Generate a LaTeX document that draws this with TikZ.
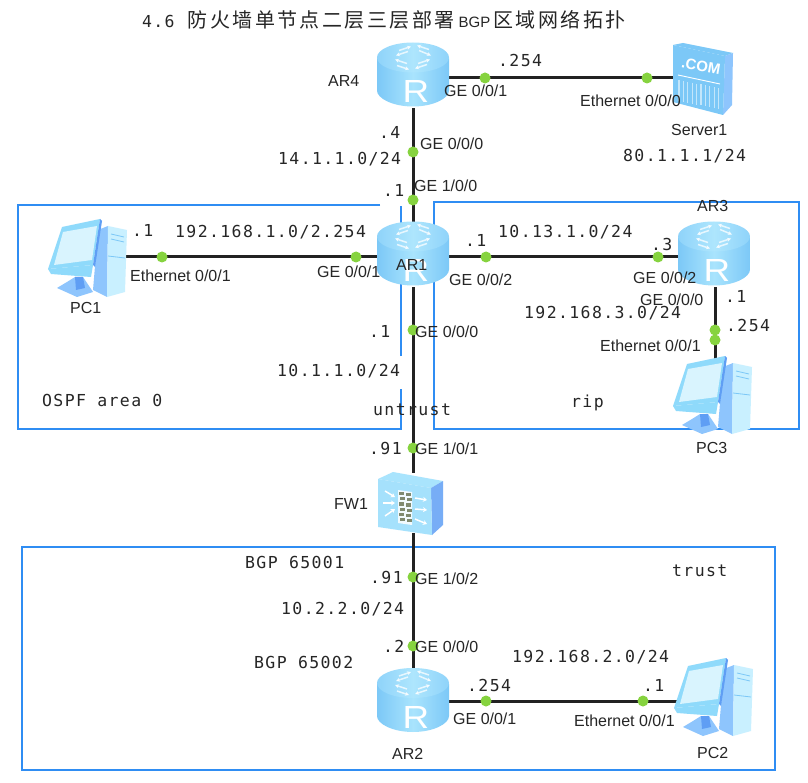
\documentclass[tikz,border=0pt]{standalone}
\usepackage{fontspec}
\setmainfont{Liberation Sans}
\newfontfamily\monof[LetterSpace=8.3]{DejaVu Sans Mono}
\newfontfamily\titlemono[LetterSpace=8]{DejaVu Sans Mono}
\newfontfamily\cjkf[LetterSpace=12.3]{Noto Sans CJK SC}
\usetikzlibrary{arrows.meta}
\definecolor{framec}{HTML}{2F8DF3}
\definecolor{linec}{HTML}{222222}
\definecolor{portc}{HTML}{86D33F}
\definecolor{txtc}{HTML}{262626}
\definecolor{routerA}{HTML}{7CC8F7}
\definecolor{routerB}{HTML}{A9E4FD}
\definecolor{routerC}{HTML}{8FD3FA}
\definecolor{routerD}{HTML}{AEE6FD}
\definecolor{routerE}{HTML}{8EC5FD}
\definecolor{pcLight}{HTML}{C9F0FF}
\definecolor{pcBlue}{HTML}{5F9EF4}
\definecolor{pcMidC}{HTML}{8FDAFB}
\definecolor{pcScreen}{HTML}{D9F4FE}
\definecolor{brickc}{HTML}{7F8A70}
\tikzset{
  x=1pt,y=-1pt,
  frameline/.style={draw=framec,line width=1.3pt},
  link/.style={draw=linec,line width=3pt},
  devbox/.style={inner sep=0pt,minimum width=#1,minimum height=#1},
  port/.style={circle,fill=portc,inner sep=0pt,minimum size=11pt},
  mlab/.style={anchor=mid west,inner sep=0pt,yshift=-3pt,text=txtc,font=\monof\fontsize{16.5}{18}\selectfont},
  slab/.style={anchor=mid west,inner sep=0pt,yshift=-3.5pt,text=txtc,font=\fontsize{16}{18}\selectfont},
  ricon/.style={white,line width=1.5pt,-{Stealth[length=4pt,width=4pt]},opacity=.75},
  router/.pic={
    \path[left color=routerA,right color=routerA,middle color=routerB]
      (-36,-16) -- (-36,16) .. controls (-36,24) and (-20,32) .. (0,32)
      .. controls (20,32) and (36,24) .. (36,16) -- (36,-16) -- cycle;
    \path[left color=routerC,right color=routerC,middle color=routerD] (0,-17) ellipse [x radius=36,y radius=15];
    \draw[ricon] (-5,-23) -- (-17,-19);
    \draw[ricon] (-14,-24) -- (-2,-28);
    \draw[ricon] (5,-11) -- (17,-15);
    \draw[ricon] (14,-10) -- (2,-6);
    \draw[ricon] (6,-24) -- (18,-19);
    \draw[ricon] (16,-25) -- (4,-29);
    \draw[ricon] (-6,-11) -- (-18,-15);
    \draw[ricon] (-16,-9) -- (-4,-5);
    \node[white,inner sep=0pt,xscale=1.15,font=\fontsize{32}{32}\selectfont] (-r) at (3,17) {R};
  },
  pcicon/.pic={
    \fill[routerE] (11,-28) -- (21,-32) -- (20,39) -- (6,32) -- cycle;
    \fill[pcLight] (21,-32) -- (40,-28) -- (38,34) -- (20,39) -- cycle;
    \draw[routerA,line width=.8pt] (24,-24) -- (37,-21) (24,-19) -- (37,-16) (21,-2) -- (38,0);
    \fill[routerE] (-30,30) -- (-20,24) -- (-12,19) -- (-4,19) -- (6,34) -- (-10,39) -- cycle;
    \fill[pcBlue] (-12,19) -- (-4,19) -- (-2,30) -- (-11,32) -- cycle;
    \fill[pcMidC] (-25,-31) -- (13,-39) -- (6,7) -- (-39,11) -- cycle;
    \fill[pcBlue] (13,-39) -- (15,-37) -- (8,9) -- (6,7) -- cycle;
    \fill[pcMidC] (-39,11) -- (6,7) -- (4,19) -- (-36,16) -- cycle;
    \fill[pcScreen] (-24,-26) -- (10,-32) -- (5,2) -- (-33,7) -- cycle;
  },
}
\begin{document}
\begin{tikzpicture}
\useasboundingbox (0,0) rectangle (808,783);
\fill[white] (0,0) rectangle (808,783);

% zone frames
\draw[frameline] (380,205) -- (18,205) -- (18,429) -- (401,429) -- (401,389);
\draw[frameline] (401,356) -- (401,206);
\draw[frameline] (434,429) -- (434,202) -- (799,202) -- (799,429) -- cycle;
\draw[frameline] (22,547) rectangle (775,770);

% device anchors
\node[devbox=60pt] (AR4) at (413,78) {};
\node[devbox=56pt] (Server1) at (703,78) {};
\node[devbox=60pt] (AR1) at (413,257) {};
\node[devbox=70pt] (PC1) at (87,257) {};
\node[devbox=60pt] (AR3) at (715,257) {};
\node[devbox=70pt] (PC3) at (715,395) {};
\node[devbox=60pt] (FW1) at (413,503) {};
\node[devbox=60pt] (AR2) at (413,701) {};
\node[devbox=70pt] (PC2) at (715,701) {};

% connectors
\draw[link] (AR4) -- (Server1);
\draw[link] (AR4) -- (AR1);
\draw[link] (AR1) -- (PC1);
\draw[link] (AR1) -- (AR3);
\draw[link] (AR3) -- (PC3);
\draw[link] (AR1) -- (FW1);
\draw[link] (FW1) -- (AR2);
\draw[link] (AR2) -- (PC2);

% icons
\pic (iAR4) at (413,74.5) {router};
\pic (iAR1) at (413,253.5) {router};
\pic (iAR3) at (714,253.5) {router};
\pic (iAR2) at (413,700) {router};
\pic (iPC1) at (87,258) {pcicon};
\pic (iPC3) at (712,395) {pcicon};
\pic (iPC2) at (713,697) {pcicon};

% server
\fill[routerA] (673,45) -- (683,43) -- (733,53) -- (725,56) -- cycle;
\fill[routerE] (725,56) -- (733,53) -- (732,105) -- (723,115) -- cycle;
\fill[routerA] (673,45) -- (725,56) -- (723,115) -- (673,102) -- cycle;
\node[white,inner sep=0pt,rotate=-10,font=\bfseries\fontsize{15}{15}\selectfont] (comtxt) at (701,66) {.COM};
\draw[white,line width=.9pt] (678,75) -- (720,84);
\foreach \i in {0,...,9}{
  \draw[white,opacity=.55,line width=1.2pt] ({679+\i*4.4},{80+\i*.9}) -- ({679+\i*4.4},{101+\i*.9});
}

% firewall
\fill[routerB] (378,479) -- (393,472) -- (443,481) -- (431,488) -- cycle;
\fill[pcBlue!85!white] (431,488) -- (443,481) -- (443,525) -- (432,535) -- cycle;
\fill[pcMidC!80!white] (378,479) -- (431,488) -- (432,535) -- (378,527) -- cycle;
\fill[white,opacity=.85] (398,490) -- (412,492) -- (412,525) -- (398,523) -- cycle;
\foreach \r in {0,...,5}{
  \fill[brickc] ({399+mod(\r,2)},{492+\r*5.2}) rectangle +(5,3.2);
  \fill[brickc] ({405.5+mod(\r,2)},{493+\r*5.2}) rectangle +(5,3.2);
}
\foreach \a/\b/\c/\d in {385/491/395/497, 383/503/395/503, 385/516/395/509, 415/498/427/500, 415/509/427/510, 415/519/427/524}{
  \draw[white,line width=1.5pt,-{Stealth[length=4pt,width=5pt]}] (\a,\b) -- (\c,\d);
}

% ports
\node[port] (p1) at (485,78) {};
\node[port] (p2) at (647,78) {};
\node[port] (p3) at (413,152) {};
\node[port] (p4) at (413,200) {};
\node[port] (p5) at (162,257) {};
\node[port] (p6) at (356,257) {};
\node[port] (p7) at (486,257) {};
\node[port] (p8) at (658,257) {};
\node[port] (p9) at (715,330) {};
\node[port] (p10) at (715,340) {};
\node[port] (p11) at (413,330) {};
\node[port] (p12) at (413,448) {};
\node[port] (p13) at (413,577) {};
\node[port] (p14) at (413,646) {};
\node[port] (p15) at (486,701) {};
\node[port] (p16) at (643,701) {};

% title
\node[anchor=mid west,inner sep=0pt,text=txtc] (title) at (142,25)
  {{\titlemono\fontsize{16.5}{18}\selectfont 4.6}\hspace{13pt}{\cjkf\fontsize{20}{22}\selectfont 防火墙单节点二层三层部署}\hspace{4pt}{\fontsize{15}{17}\selectfont BGP}\hspace{3pt}{\cjkf\fontsize{20}{22}\selectfont 区域网络拓扑}};

% sans labels
\node[slab] (s1) at (328,80) {AR4};
\node[slab] (s2) at (444,90) {GE 0/0/1};
\node[slab] (s3) at (580,100) {Ethernet 0/0/0};
\node[slab] (s4) at (671,129) {Server1};
\node[slab] (s5) at (420,143) {GE 0/0/0};
\node[slab] (s6) at (414,185) {GE 1/0/0};
\node[slab] (s7) at (697,205) {AR3};
\node[slab] (s8) at (130,275) {Ethernet 0/0/1};
\node[slab] (s9) at (70,307) {PC1};
\node[slab] (s10) at (317,271) {GE 0/0/1};
\node[slab] (s11) at (396,264) {AR1};
\node[slab] (s12) at (449,279) {GE 0/0/2};
\node[slab] (s13) at (633,277) {GE 0/0/2};
\node[slab] (s14) at (640,299) {GE 0/0/0};
\node[slab] (s15) at (600,345) {Ethernet 0/0/1};
\node[slab] (s16) at (415,331) {GE 0/0/0};
\node[slab] (s17) at (696,447) {PC3};
\node[slab] (s18) at (415,448) {GE 1/0/1};
\node[slab] (s19) at (334,503) {FW1};
\node[slab] (s20) at (415,578) {GE 1/0/2};
\node[slab] (s21) at (415,646) {GE 0/0/0};
\node[slab] (s22) at (453,718) {GE 0/0/1};
\node[slab] (s23) at (574,720) {Ethernet 0/0/1};
\node[slab] (s24) at (392,753) {AR2};
\node[slab] (s25) at (697,752) {PC2};

% mono labels
\node[mlab] (m1) at (498,61) {.254};
\node[mlab] (m2) at (623,156) {80.1.1.1/24};
\node[mlab] (m3) at (379,133) {.4};
\node[mlab] (m4) at (278,159) {14.1.1.0/24};
\node[mlab] (m5) at (383,191) {.1};
\node[mlab] (m6) at (132,231) {.1};
\node[mlab] (m7) at (175,232) {192.168.1.0/2.254};
\node[mlab] (m8) at (465,241) {.1};
\node[mlab] (m9) at (498,232) {10.13.1.0/24};
\node[mlab] (m10) at (651,245) {.3};
\node[mlab] (m11) at (725,297) {.1};
\node[mlab] (m12) at (524,313) {192.168.3.0/24};
\node[mlab] (m13) at (726,326) {.254};
\node[mlab] (m14) at (369,332) {.1};
\node[mlab] (m15) at (277,371) {10.1.1.0/24};
\node[mlab] (m16) at (42,401) {OSPF area 0};
\node[mlab] (m17) at (373,410) {untrust};
\node[mlab] (m18) at (571,402) {rip};
\node[mlab] (m19) at (369,449) {.91};
\node[mlab] (m20) at (245,563) {BGP 65001};
\node[mlab] (m21) at (672,571) {trust};
\node[mlab] (m22) at (370,578) {.91};
\node[mlab] (m23) at (281,609) {10.2.2.0/24};
\node[mlab] (m24) at (383,647) {.2};
\node[mlab] (m25) at (254,663) {BGP 65002};
\node[mlab] (m26) at (512,657) {192.168.2.0/24};
\node[mlab] (m27) at (467,686) {.254};
\node[mlab] (m28) at (643,686) {.1};
\end{tikzpicture}
\end{document}
